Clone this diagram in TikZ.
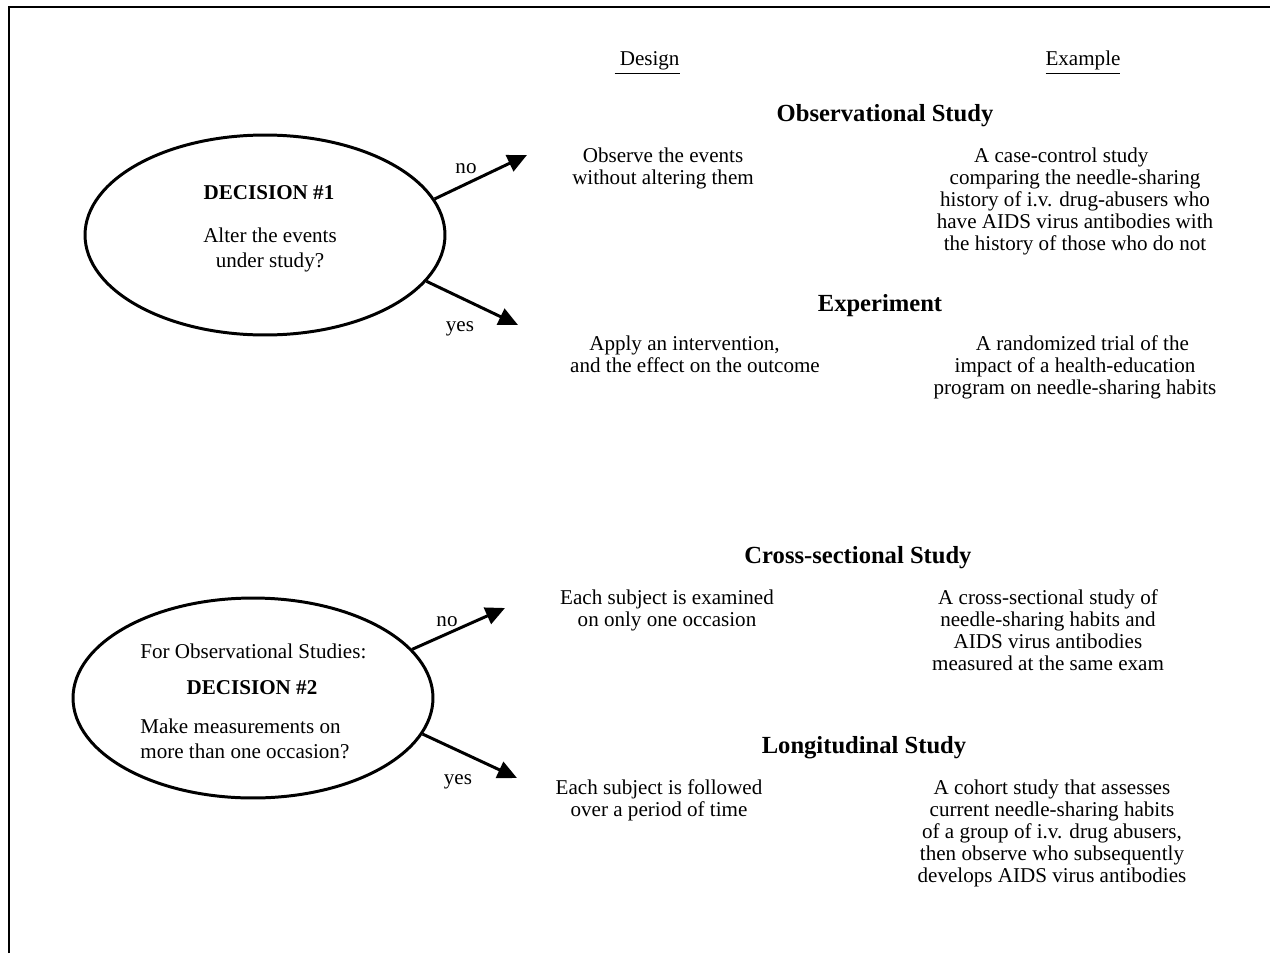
\documentclass[tikz,border=0pt]{standalone}
\usepackage{fontspec}
\setmainfont{Liberation Serif}
\usetikzlibrary{arrows.meta, shapes.geometric}

\begin{document}
\begin{tikzpicture}[x=0.02cm, y=-0.02cm,
  body/.style={font=\fontsize{12}{12.45}\selectfont, align=center, anchor=base, inner sep=0pt},
  head/.style={font=\fontsize{14}{16}\selectfont\bfseries, anchor=base, inner sep=0pt},
  ovaltext/.style={font=\fontsize{12}{14.2}\selectfont, anchor=base, inner sep=0pt},
  ovalhead/.style={font=\fontsize{12}{14.2}\selectfont\bfseries, anchor=base, inner sep=0pt},
  oval/.style={draw, ellipse, line width=1.7pt, minimum width=7.2cm, minimum height=4cm, inner sep=0pt},
  arr/.style={line width=1.7pt, -{Triangle[length=11pt, width=10pt]}}]
  \useasboundingbox (0,0) rectangle (1270,953);

  % frame
  \draw[line width=1.1pt] (9,953) -- (9,7) -- (1270,7);

  % column titles
  \node[body] (design) at (647,66) {\underline{\ Design}};
  \node[body] (example) at (1083,66) {\underline{Example}};

  % decision 1 (multi-line nodes sit on their last baseline)
  \node[oval] (e1) at (265,235) {};
  \node[ovalhead] (dec1) at (269,199) {DECISION \#1};
  \node[ovaltext, align=center] (q1) at (270,267) {Alter the events\\under study?};
  \coordinate (t1no) at (527,155);
  \coordinate (t1yes) at (518,325);
  \draw[arr] (e1.12) -- (t1no);
  \draw[arr] (e1.-16.5) -- (t1yes);
  \node[body] (no1) at (466,173) {no};
  \node[body] (yes1) at (460,331) {yes};

  % observational study
  \node[head] (hobs) at (885,121) {Observational Study};
  \node[body] (dobs) at (663,184) {Observe the events\\without altering them};
  \node[body] (eobs) at (1075,250) {A case-control study\hspace*{1.3em}\\comparing the needle-sharing\\history of i.v. drug-abusers who\\have AIDS virus antibodies with\\the history of those who do not};

  % experiment
  \node[head] (hexp) at (880,311) {Experiment};
  \node[body] (dexp) at (695,372) {Apply an intervention,\hspace*{1em}\\and the effect on the outcome};
  \node[body] (eexp) at (1075,394) {\hspace*{0.7em}A randomized trial of the\\impact of a health-education\hspace*{0.9em}\\program on needle-sharing habits};

  % decision 2
  \node[oval] (e2) at (253,698) {};
  \node[ovaltext, anchor=base west] (for2) at (140,658) {For Observational Studies:};
  \node[ovalhead] (dec2) at (252,694) {DECISION \#2};
  \node[ovaltext, align=left, anchor=base west] (q2) at (140,758) {Make measurements on\\more than one occasion?};
  \coordinate (t2no) at (505,608);
  \coordinate (t2yes) at (517,778);
  \draw[arr] (e2.17) -- (t2no);
  \draw[arr] (e2.-12) -- (t2yes);
  \node[body] (no2) at (447,626) {no};
  \node[body] (yes2) at (458,784) {yes};

  % cross-sectional study
  \node[head] (hcross) at (858,563) {Cross-sectional Study};
  \node[body] (dcross) at (667,626) {Each subject is examined\\on only one occasion};
  \node[body] (ecross) at (1048,670) {A cross-sectional study of\\needle-sharing habits and\\AIDS virus antibodies\\measured at the same exam};

  % longitudinal study
  \node[head] (hlong) at (864,753) {Longitudinal Study};
  \node[body] (dlong) at (659,816) {Each subject is followed\\over a period of time};
  \node[body] (elong) at (1052,882) {A cohort study that assesses\\current needle-sharing habits\\of a group of i.v. drug abusers,\\then observe who subsequently\\develops AIDS virus antibodies};
\end{tikzpicture}
\end{document}
